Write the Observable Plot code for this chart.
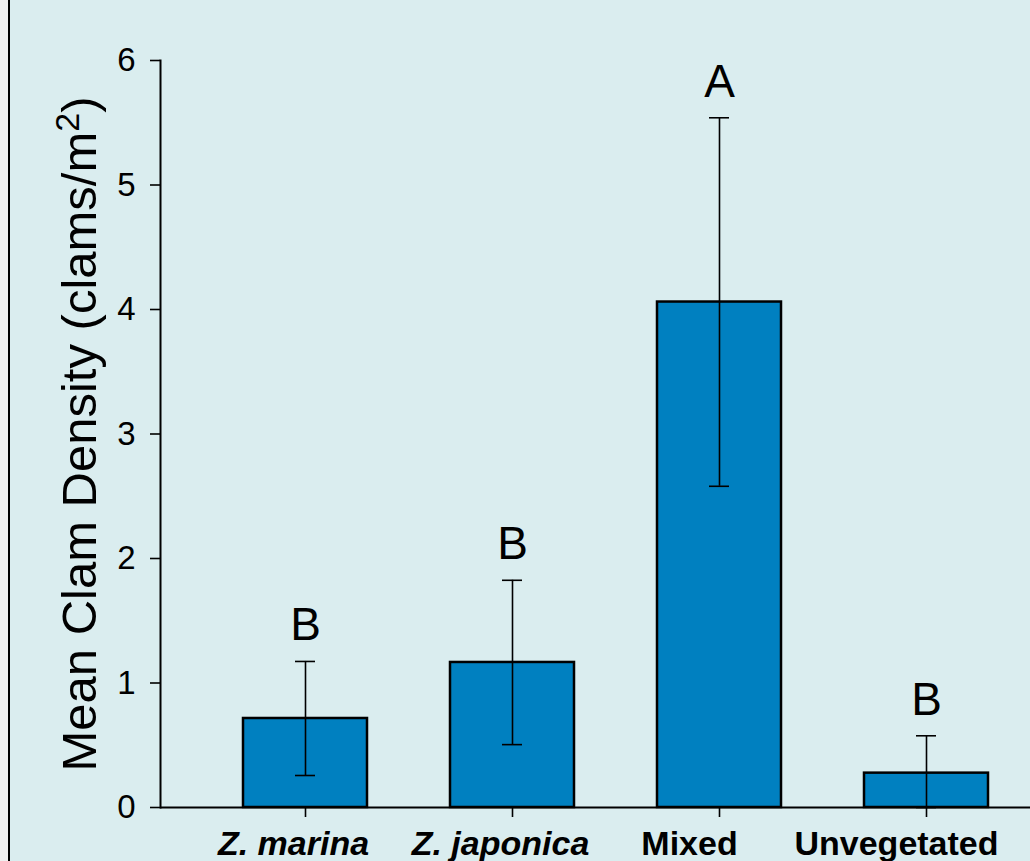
<!DOCTYPE html>
<html>
<head>
<meta charset="utf-8">
<script src="https://cdn.jsdelivr.net/npm/d3@7"></script>
<script src="https://cdn.jsdelivr.net/npm/@observablehq/plot@0.6"></script>
<style>
  html, body { margin: 0; padding: 0; background: #f0f0f0; overflow: hidden; }
  #wrap { position: absolute; left: 8px; top: 0; width: 1020px; height: 861px;
          border-left: 2px solid #000; background: #daedef; overflow: hidden; }
  #wrap svg { display: block; }
</style>
</head>
<body>
<div id="wrap"></div>
<script>
// ---- data ----
const habitats = ["Z. marina", "Z. japonica", "Mixed", "Unvegetated"];
const meanDensity = [0.715, 1.165, 4.06, 0.276];
const stdError = [0.458, 0.66, 1.48, 0.30];
const groupLetters = ["B", "B", "A", "B"];
const yTicks = [0, 1, 2, 3, 4, 5, 6];
const italicHabitats = ["Z. marina", "Z. japonica"];
const plainHabitats = ["Mixed", "Unvegetated"];
const yLabel = "Mean Clam Density (clams/m";

const rows = habitats.map((h, i) => ({
  habitat: h,
  mean: meanDensity[i],
  lo: Math.max(0, meanDensity[i] - stdError[i]),
  hi: meanDensity[i] + stdError[i],
  letter: groupLetters[i]
}));

const font = "'Liberation Sans', Arial, Helvetica, sans-serif";

const chart = Plot.plot({
  width: 1020,
  height: 861,
  marginTop: 60,
  marginBottom: 54,
  marginLeft: 150,
  marginRight: 0,
  style: { background: "transparent", fontFamily: font, color: "#000" },
  x: { domain: habitats, range: [148.6, 1062.5], padding: 0.4 },
  y: { domain: [0, 6] },
  marks: [
    Plot.barY(rows, { x: "habitat", y: "mean", fill: "#0080c0", stroke: "#000", strokeWidth: 2.5 }),
    Plot.ruleX(rows, { x: "habitat", y1: "lo", y2: "hi", stroke: "#000", strokeWidth: 1.6 }),
    Plot.tickY(rows, { x: "habitat", y: "hi", stroke: "#000", strokeWidth: 1.6, insetLeft: 52, insetRight: 52 }),
    Plot.tickY(rows, { x: "habitat", y: "lo", stroke: "#000", strokeWidth: 1.6, insetLeft: 52, insetRight: 52 }),
    Plot.text(rows, { x: "habitat", y: d => d.hi + 0.17, text: "letter", lineAnchor: "bottom", fontSize: 46, fill: "#000" }),
    Plot.ruleY([0], { stroke: "#000", strokeWidth: 2 }),
    Plot.frame({ anchor: "left", stroke: "#000", strokeWidth: 2 }),
    Plot.axisY(yTicks, { tickSize: 10, tickPadding: 15, fontSize: 33, label: null, strokeWidth: 1.6, tickFormat: d => String(d) }),
    // tick marks only
    Plot.axisX(habitats, { tickSize: 10, label: null, strokeWidth: 1.6, text: null }),
    // tick labels (slightly shifted left as in the original)
    Plot.axisX(italicHabitats, { tickSize: 0, tickPadding: 23, fontSize: 34, fontWeight: "bold", fontStyle: "italic", label: null, dx: -12 }),
    Plot.axisX(plainHabitats, { tickSize: 0, tickPadding: 23, fontSize: 34, fontWeight: "bold", label: null, dx: -30 }),
    Plot.text([yLabel], { frameAnchor: "left", textAnchor: "middle", rotate: -90, dx: -80, dy: 0, fontSize: 49, fill: "#000", className: "ylab" })
  ]
});

document.getElementById("wrap").appendChild(chart);

// superscript 2 for the unit label
const lab = chart.querySelector("g.ylab text") || Array.from(chart.querySelectorAll("text")).find(t => t.textContent === yLabel);
if (lab) {
  lab.textContent = "";
  const ns = "http://www.w3.org/2000/svg";
  const t0 = document.createElementNS(ns, "tspan"); t0.textContent = yLabel; lab.appendChild(t0);
  const t1 = document.createElementNS(ns, "tspan"); t1.textContent = "2"; t1.setAttribute("dy", "-17"); t1.setAttribute("font-size", "34"); lab.appendChild(t1);
  const t2 = document.createElementNS(ns, "tspan"); t2.textContent = ")"; t2.setAttribute("dy", "17"); lab.appendChild(t2);
}
</script>
</body>
</html>
